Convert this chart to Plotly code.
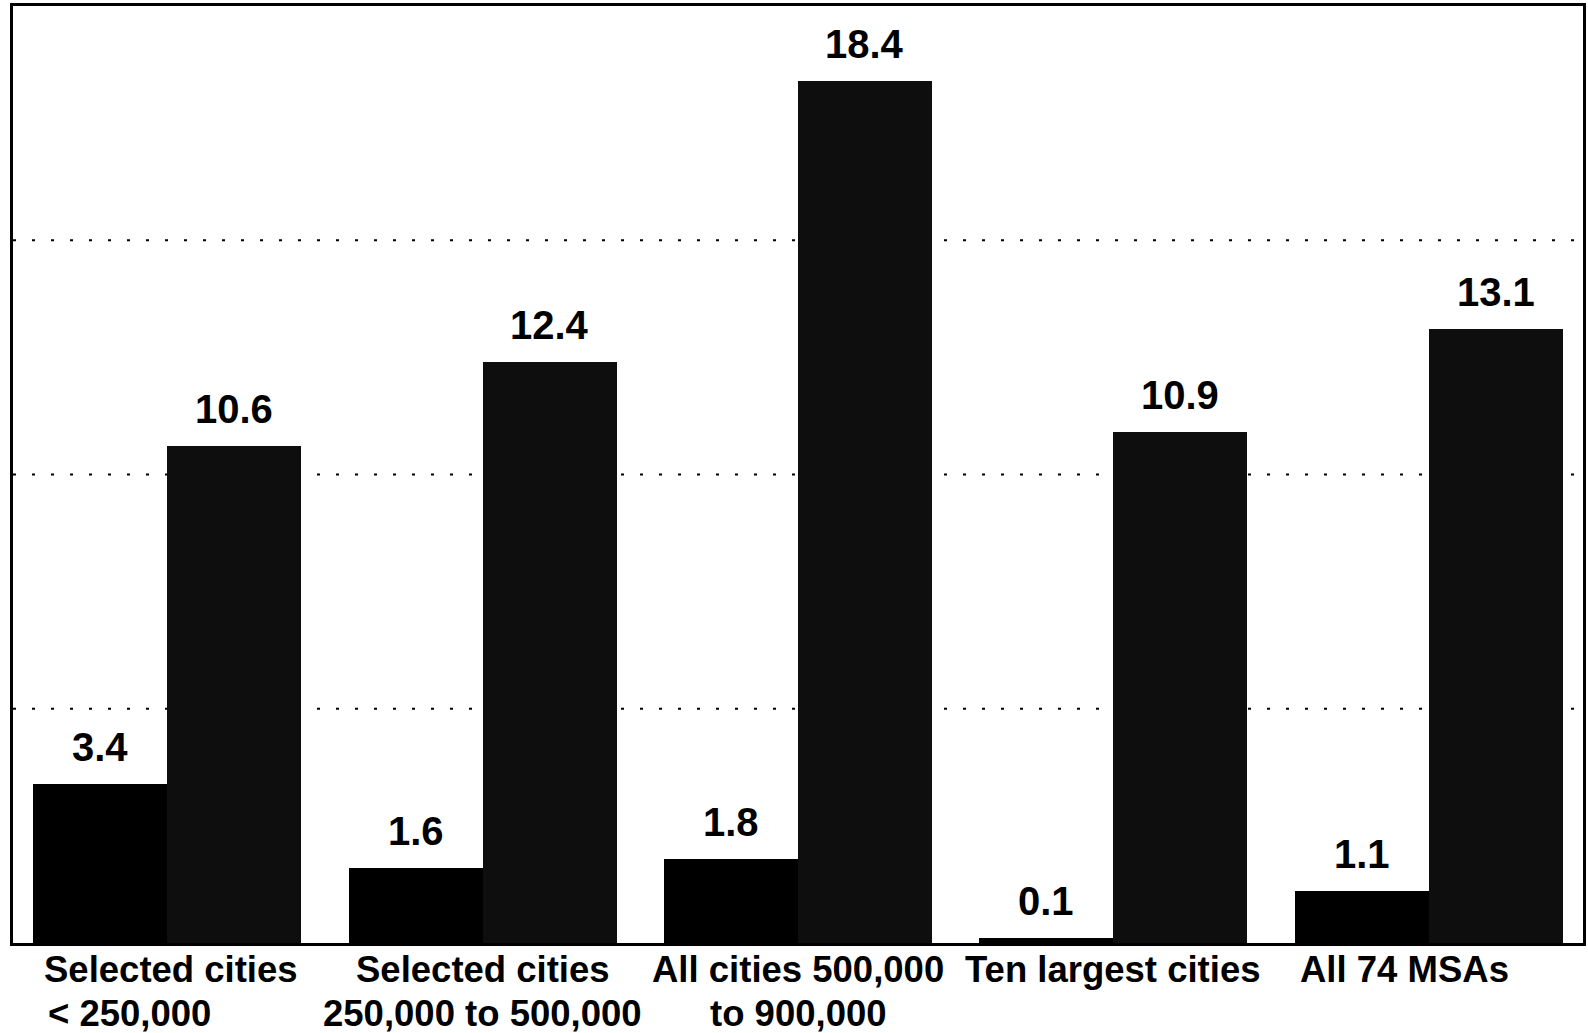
import plotly.graph_objects as go

# Category labels (two-line) and the two value series
categories = [
    "Selected cities<br>< 250,000",
    "Selected cities<br>250,000 to 500,000",
    "All cities 500,000<br>to 900,000",
    "Ten largest cities",
    "All 74 MSAs",
]
series_first = [3.4, 1.6, 1.8, 0.1, 1.1]
series_second = [10.6, 12.4, 18.4, 10.9, 13.1]
gridline_values = [5, 10, 15]

# Styling
FONT = "Liberation Sans, Arial, Helvetica, sans-serif"
BAR_W = 0.425
LINE_STEP = 44          # px between the two lines of a category label
FIRST_LINE_SHIFT = -4   # px below the axis for the first line
label_xshift = [4, 0, 0, 0, -24]

xs = list(range(len(categories)))

fig = go.Figure()
fig.add_trace(go.Bar(
    x=xs, y=series_first, name="Series 1",
    width=BAR_W, offset=-BAR_W,
    marker=dict(color="#000000", line=dict(width=0)),
    hoverinfo="y",
))
fig.add_trace(go.Bar(
    x=xs, y=series_second, name="Series 2",
    width=BAR_W, offset=0,
    marker=dict(color="#0e0e0e", line=dict(width=0)),
    hoverinfo="y",
))

annotations = []
# Value labels above each bar
for i, (a, b) in enumerate(zip(series_first, series_second)):
    for x, v in ((i - BAR_W / 2, a), (i + BAR_W / 2, b)):
        annotations.append(dict(
            x=x, y=v, xref="x", yref="y",
            text=f"{v:.1f}", showarrow=False,
            yanchor="bottom", yshift=13,
            font=dict(family=FONT, size=40, color="#000000", weight="bold"),
        ))

# Category labels under the axis, one annotation per line
for i, cat in enumerate(categories):
    lines = cat.split("<br>")
    for k, line in enumerate(lines):
        ann = dict(
            x=i, y=0, xref="x", yref="y",
            text=line, showarrow=False,
            yanchor="top", yshift=FIRST_LINE_SHIFT - k * LINE_STEP,
            xshift=label_xshift[i],
            font=dict(family=FONT, size=36.5, color="#000000", weight="bold"),
        )
        if i == 0 and k == 1:
            # second line of the first label starts flush with the first line
            ann.update(xanchor="left", xshift=label_xshift[i] - 125)
        annotations.append(ann)

# Dotted horizontal reference lines
shapes = []
for g in gridline_values:
    shapes.append(dict(
        type="line", xref="paper", yref="y",
        x0=0, x1=1, y0=g, y1=g,
        line=dict(color="#000000", width=2, dash="3px,16px"),
        layer="below",
    ))

fig.update_layout(
    width=1588, height=1033,
    autosize=False,
    margin=dict(l=13, r=2, t=6, b=90),
    paper_bgcolor="#ffffff",
    plot_bgcolor="#ffffff",
    showlegend=False,
    bargap=0, bargroupgap=0,
    annotations=annotations,
    shapes=shapes,
    xaxis=dict(
        range=[-0.49, 4.49],
        showticklabels=False, showgrid=False, zeroline=False,
        showline=True, mirror=True, linecolor="#000000", linewidth=3,
        ticks="",
    ),
    yaxis=dict(
        range=[0, 20],
        showticklabels=False, showgrid=False, zeroline=False,
        showline=True, mirror=True, linecolor="#000000", linewidth=3,
        ticks="",
    ),
)

fig.write_html("out.html")
